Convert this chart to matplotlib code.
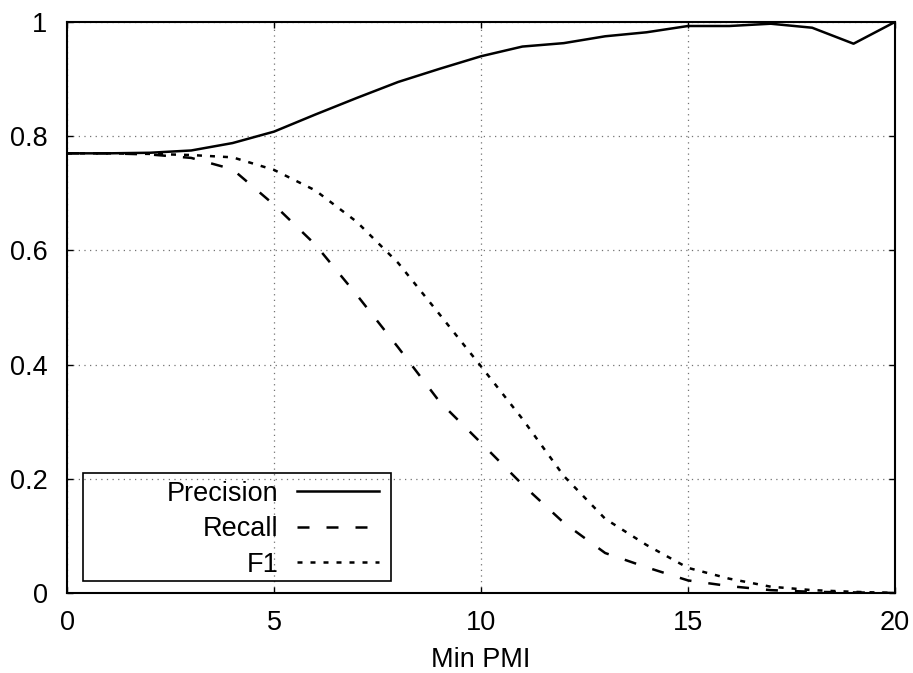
import matplotlib
matplotlib.use("Agg")
import matplotlib.pyplot as plt
from matplotlib.patches import Rectangle

plt.rcParams.update({
    "font.family": ["Liberation Sans", "DejaVu Sans"],
    "font.size": 19.5,
})

# values (min PMI threshold 0..20)
min_pmi = list(range(0, 21))
precision = [0.770, 0.770, 0.771, 0.775, 0.788, 0.808, 0.838, 0.867, 0.895, 0.918, 0.940,
             0.957, 0.963, 0.975, 0.982, 0.993, 0.993, 0.997, 0.990, 0.962, 1.000]
recall = [0.770, 0.770, 0.768, 0.762, 0.742, 0.680, 0.610, 0.522, 0.430, 0.335, 0.263,
          0.190, 0.123, 0.070, 0.045, 0.022, 0.012, 0.005, 0.002, 0.001, 0.000]
f1 = [0.770, 0.770, 0.769, 0.767, 0.763, 0.741, 0.705, 0.650, 0.578, 0.488, 0.397,
      0.305, 0.205, 0.130, 0.084, 0.044, 0.025, 0.011, 0.005, 0.002, 0.000]

x_ticks = [0, 5, 10, 15, 20]
y_ticks = [0, 0.2, 0.4, 0.6, 0.8, 1]
y_tick_labels = ["0", "0.2", "0.4", "0.6", "0.8", "1"]

fig = plt.figure(figsize=(9.13, 6.73), dpi=100)
ax = fig.add_axes([0.0734, 0.1189, 0.9068, 0.8484])

lw = 1.8
ax.plot(min_pmi, precision, color="black", lw=lw, label="Precision")
ax.plot(min_pmi, recall, color="black", lw=lw, dashes=(4.8, 6.8), label="Recall")
ax.plot(min_pmi, f1, color="black", lw=lw, dashes=(2.0, 3.2), label="F1")

ax.set_xlim(0, 20)
ax.set_ylim(0, 1)
ax.set_xticks(x_ticks)
ax.set_yticks(y_ticks)
ax.set_yticklabels(y_tick_labels)
ax.grid(True, color="0.45", lw=0.9, linestyle=(0, (1, 3.5)))
ax.tick_params(direction="in", length=4, width=1, top=True, right=True, pad=12)
ax.tick_params(axis="y", pad=14)
for s in ax.spines.values():
    s.set_linewidth(1.5)

ax.set_xlabel("Min PMI", labelpad=8)

# gnuplot-style key: wide box, labels right-aligned before the samples
ax.add_patch(Rectangle((0.0193, 0.021), 0.372, 0.1895, transform=ax.transAxes,
                       fill=False, edgecolor="black", lw=1.2, zorder=5))
ax.legend(loc="lower right", bbox_to_anchor=(0.383, 0.017), frameon=False,
          markerfirst=False, handlelength=3.0, handletextpad=0.7,
          labelspacing=0.35, borderpad=0.2, borderaxespad=0)

fig.savefig("out.png", dpi=100)
